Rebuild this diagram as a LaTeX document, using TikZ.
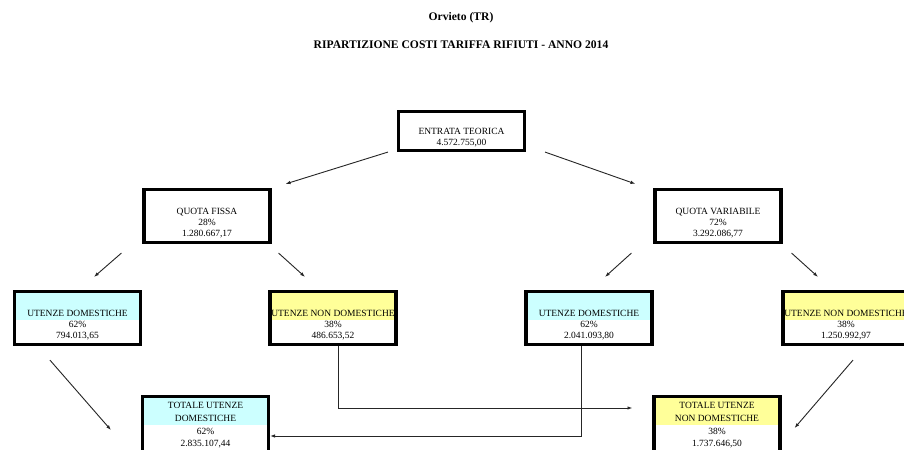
\documentclass[tikz,border=0pt]{standalone}
\usepackage{fontspec}
\setmainfont{Liberation Serif}
\usetikzlibrary{arrows.meta, calc}
\definecolor{azzurro}{HTML}{CCFFFF}
\definecolor{giallo}{HTML}{FFFF99}

\begin{document}
\begin{tikzpicture}[x=0.5mm, y=-0.5mm, >={Latex[length=7pt, width=5pt]},
  scatola/.style={draw, line width=4.5pt, fill=white, inner sep=0pt,
    minimum width=63mm, align=center, font=\fontsize{13.5}{15.6}\selectfont,
    text height=23.5mm, text depth=3mm},
  banda/.style={path picture={\fill[#1] (path picture bounding box.north west)
    rectangle ($(path picture bounding box.north east)+(0,28)$);}},
  freccia/.style={->, line width=1.3pt, draw=black!85},
  titolo/.style={font=\bfseries\fontsize{16.5}{19}\selectfont}]
  \path[use as bounding box, clip] (0,0) rectangle (904,450);
  % intestazione
  \node[titolo] (comune) at (461,18) {Orvieto (TR)};
  \node[titolo] (riparto) at (461,45) {RIPARTIZIONE COSTI TARIFFA RIFIUTI - ANNO 2014};
  % livello 1 e 2
  \node[scatola, text height=17.2mm, text depth=2.3mm] (entrata) at (461.5,131)
    {ENTRATA TEORICA\\4.572.755,00};
  \node[scatola] (fissa) at (207,216) {QUOTA FISSA\\28\%\\1.280.667,17};
  \node[scatola] (variabile) at (718,216) {QUOTA VARIABILE\\72\%\\3.292.086,77};
  % utenze
  \node[scatola, banda=azzurro] (domf) at (77.5,318) {UTENZE DOMESTICHE\\62\%\\794.013,65};
  \node[scatola, banda=giallo] (nondomf) at (333,318) {UTENZE NON DOMESTICHE\\38\%\\486.653,52};
  \node[scatola, banda=azzurro] (domv) at (589,318) {UTENZE DOMESTICHE\\62\%\\2.041.093,80};
  \node[scatola, banda=giallo] (nondomv) at (846,318) {UTENZE NON DOMESTICHE\\38\%\\1.250.992,97};
  % totali
  \node[scatola, banda=azzurro, font=\fontsize{13.5}{18}\selectfont,
    text height=25.2mm, text depth=3.3mm] (totdom) at (205.5,425)
    {TOTALE UTENZE\\DOMESTICHE\\62\%\\2.835.107,44};
  \node[scatola, banda=giallo, font=\fontsize{13.5}{18}\selectfont,
    text height=25.2mm, text depth=3.3mm] (totnondom) at (717,425)
    {TOTALE UTENZE\\NON DOMESTICHE\\38\%\\1.737.646,50};
  % frecce
  \draw[freccia] ($(entrata.south west)+(-9,0)$) -- ($(fissa.north east)+(14,-4)$);
  \draw[freccia] ($(entrata.south east)+(19,0)$) -- ($(variabile.north west)+(-18,-4)$);
  \draw[freccia] ($(fissa.south west)+(-21,9)$) -- ($(domf.north)+(16.5,-13)$);
  \draw[freccia] ($(fissa.south east)+(7,9)$) -- ($(nondomf.north)+(-28,-13)$);
  \draw[freccia] ($(variabile.south west)+(-22,9)$) -- ($(domv.north)+(16,-13)$);
  \draw[freccia] ($(variabile.south east)+(9,9)$) -- ($(nondomv.north)+(-28,-13)$);
  \draw[freccia] ($(domf.south west)+(37,14)$) -- ($(totdom.west)+(-30,5)$);
  \draw[freccia] ($(nondomv.south)+(7,14)$) -- ($(totnondom.east)+(13,3)$);
  \draw[freccia] ($(nondomf.south)+(5,0)$) |- ($(totnondom.west)+(-20,-17)$);
  \draw[freccia] ($(domv.south)+(-8,0)$) |- ($(totdom.east)+(0,11)$);
\end{tikzpicture}
\end{document}
